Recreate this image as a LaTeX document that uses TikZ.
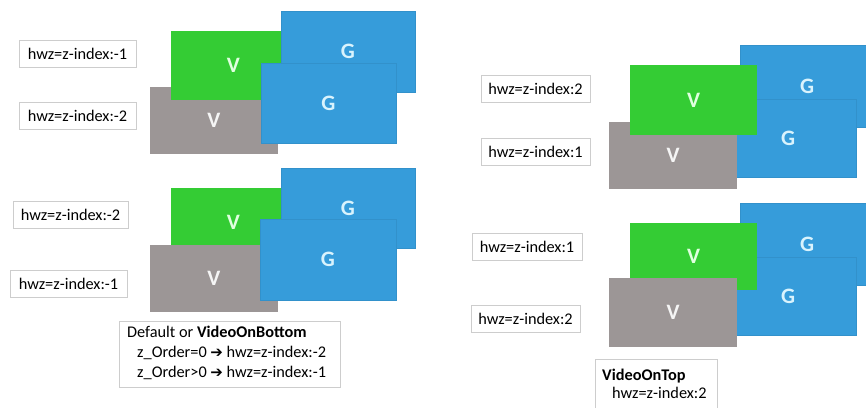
\documentclass[tikz,border=0pt]{standalone}
\usepackage{fontspec}
\setmainfont{Carlito}
\newfontfamily\arrowfont{DejaVu Sans}
\definecolor{vgreen}{RGB}{52,204,52}
\definecolor{gblue}{RGB}{54,156,218}
\definecolor{vgray}{RGB}{156,150,150}
\definecolor{boxline}{RGB}{205,205,205}
\newcommand{\arr}{{\arrowfont\fontsize{15}{15}\selectfont ➔}}
\tikzset{
  lbl/.style={draw=boxline, line width=1pt, fill=white, inner sep=0pt,
    minimum height=27pt, font=\fontsize{16.3}{18}\selectfont},
  rbox/.style n args={3}{fill=#1, inner sep=0pt, minimum width=#2,
    minimum height=#3, font=\bfseries\fontsize{22}{22}\selectfont},
  gv/.style 2 args={rbox={vgreen}{#1}{#2}, text=green!12!white},
  yv/.style 2 args={rbox={vgray}{#1}{#2}, text=gray!8!white},
  bg/.style 2 args={rbox={gblue}{#1}{#2}, text=cyan!15!white, draw=gblue!93!black, line width=0.4pt},
  note/.style={draw=boxline, line width=1pt, fill=white, anchor=north west, inner sep=0pt},
  notetext/.style={anchor=north west, align=left, inner sep=0pt}
}
\begin{document}
\begin{tikzpicture}[x=1pt,y=-1pt]
\useasboundingbox[fill=white] (0,0) rectangle (866,407);

% ---- top-left group
\node[yv={128pt}{67pt}] (yV1) at (214,120.5) {V};
\node[gv={125pt}{69pt}] (gV1) at (233.5,65.5) {V};
\node[bg={134pt}{81pt}] (bG1) at (348,51.5) {G};
\node[bg={135pt}{80pt}] (fG1) at (328.5,103) {G};
\node[lbl, minimum width=117pt] (l1) at (77.5,53.5) {hwz=z-index:-1};
\node[lbl, minimum width=117pt] (l2) at (77.5,116) {hwz=z-index:-2};

% ---- bottom-left group
\node[gv={125pt}{69pt}] (gV2) at (233.5,222.5) {V};
\node[yv={128pt}{67pt}] (yV2) at (214,278.5) {V};
\node[bg={134pt}{80pt}] (bG2) at (348,208) {G};
\node[bg={136pt}{81pt}] (fG2) at (328,259.5) {G};
\node[lbl, minimum width=115pt] (l3) at (70.5,214.5) {hwz=z-index:-2};
\node[lbl, minimum width=117pt] (l4) at (68.5,283.5) {hwz=z-index:-1};
\node[note, minimum width=221pt, minimum height=66pt] (n1) at (119,321) {};
\node[notetext, font=\fontsize{16.3}{20}\selectfont] (t1) at (127,326)
  {Default or \textbf{VideoOnBottom}\\
   \hspace*{10pt}z\_Order=0 \arr{} hwz=z-index:-2\\
   \hspace*{10pt}z\_Order>0 \arr{} hwz=z-index:-1};

% ---- top-right group
\node[bg={134pt}{82pt}] (bG3) at (807,86) {G};
\node[bg={136pt}{78pt}] (fG3) at (788,138) {G};
\node[yv={128pt}{67pt}] (yV3) at (673,155.5) {V};
\node[gv={127pt}{70pt}] (gV3) at (693.5,100) {V};
\node[lbl, minimum width=109pt] (l5) at (535.5,89) {hwz=z-index:2};
\node[lbl, minimum width=109pt] (l6) at (535.5,152) {hwz=z-index:1};

% ---- bottom-right group
\node[bg={134pt}{82pt}] (bG4) at (807,244) {G};
\node[bg={136pt}{78pt}] (fG4) at (788,296) {G};
\node[gv={127pt}{67pt}] (gV4) at (693.5,256.5) {V};
\node[yv={128pt}{69pt}] (yV4) at (673,312.5) {V};
\node[lbl, minimum width=110pt] (l7) at (527,247) {hwz=z-index:1};
\node[lbl, minimum width=109pt] (l8) at (525.5,318.5) {hwz=z-index:2};
\node[note, minimum width=122pt, minimum height=60pt] (n2) at (595,359) {};
\node[notetext, font=\fontsize{16.3}{18}\selectfont] (t2) at (602,369)
  {\textbf{VideoOnTop}\\
   \hspace*{10pt}hwz=z-index:2};
\end{tikzpicture}
\end{document}
